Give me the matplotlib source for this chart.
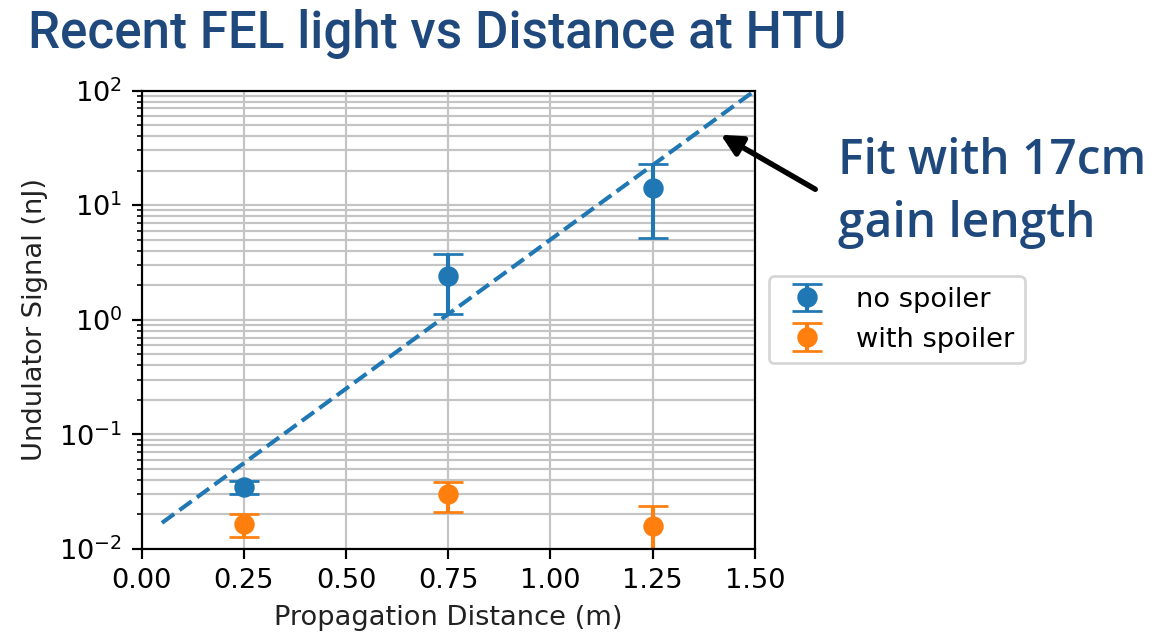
import numpy as np
import matplotlib
matplotlib.use("Agg")
import matplotlib.pyplot as plt

# measured points (nJ)
dist = [0.25, 0.75, 1.25]
no_spoiler = [0.035, 2.42, 14.1]
no_spoiler_lo = [0.0302, 1.13, 5.2]
no_spoiler_hi = [0.0393, 3.75, 22.9]
with_spoiler = [0.0164, 0.030, 0.0159]
with_spoiler_lo = [0.0127, 0.0210, 0.0085]
with_spoiler_hi = [0.0203, 0.0387, 0.0238]

# exponential fit, straight on log scale -> two end points
fit_x = [0.05, 1.5]
fit_y = [0.0169, 100.0]

title_col = '#1f497d'

dpi = 196
W, H = 1154, 633
fig = plt.figure(figsize=(W/dpi, H/dpi), dpi=dpi)
ax = fig.add_axes([141.5/W, 1-549/H, (755-141.5)/W, (549-90.5)/H])

ns = np.array(no_spoiler)
ws = np.array(with_spoiler)
err_ns = [ns - np.array(no_spoiler_lo), np.array(no_spoiler_hi) - ns]
err_ws = [ws - np.array(with_spoiler_lo), np.array(with_spoiler_hi) - ws]

ax.errorbar(dist, no_spoiler, yerr=err_ns, fmt='o', ms=6.5, capsize=5.5, color='C0', label='no spoiler')
ax.errorbar(dist, with_spoiler, yerr=err_ws, fmt='o', ms=6.5, capsize=5.5, color='C1', label='with spoiler')
ax.plot(fit_x, fit_y, '--', color='C0')

ax.set_yscale('log')
ax.set_ylim(1e-2, 1e2)
ax.set_xlim(0, 1.5)
ax.set_xticks([0, 0.25, 0.5, 0.75, 1.0, 1.25, 1.5])
ax.grid(True, which='major', color='#c4c4c4')
ax.grid(True, which='minor', axis='y', color='#c4c4c4')
ax.set_xlabel('Propagation Distance (m)', color='#222222')
ax.set_ylabel('Undulator Signal (nJ)', color='#222222')
ax.legend(loc='center left', bbox_to_anchor=(1.0, 0.5))

fig.text(28/W, 1-34/H, 'Recent FEL light vs Distance at HTU', fontsize=18.8,
         color=title_col, va='center', ha='left',
         family=['DejaVu Sans Condensed', 'Liberation Sans Narrow', 'Roboto'], weight='medium')
fig.text(838/W, 1-193/H, 'Fit with 17cm\ngain length', fontsize=17.6, color=title_col,
         va='center', ha='left', family='Open Sans', weight='semibold', linespacing=1.4)
fig.add_artist(matplotlib.patches.FancyArrowPatch(
    (820/W, 1-192/H), (716/W, 1-132/H), transform=fig.transFigure,
    arrowstyle='-|>', mutation_scale=16, lw=2, color='black'))

fig.savefig('out.png', dpi=dpi)
